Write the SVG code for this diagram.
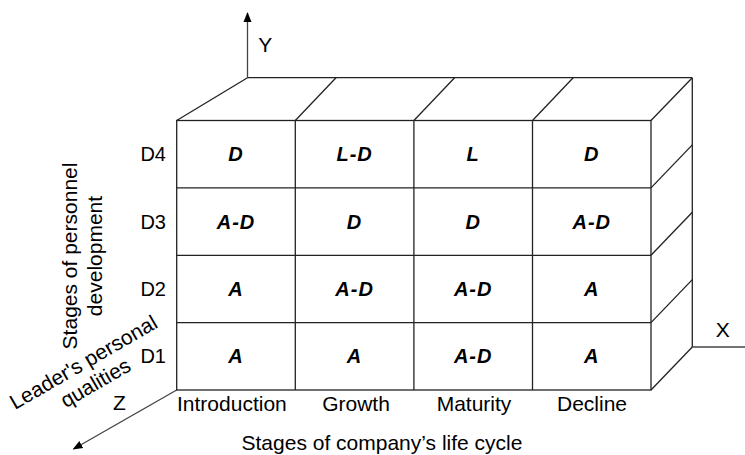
<svg xmlns="http://www.w3.org/2000/svg" width="745" height="455" viewBox="0 0 745 455">
<style>
.lbl{font-family:"Liberation Sans",Arial,sans-serif;font-size:21px;fill:#000}
.row{font-family:"Liberation Sans",Arial,sans-serif;font-size:20px;fill:#000;text-anchor:end}
.cell{font-family:"Liberation Sans",Arial,sans-serif;font-size:20px;font-weight:bold;font-style:italic;fill:#000;text-anchor:middle;letter-spacing:1px}
.box{fill:none;stroke:#222;stroke-width:1.3}
.face{fill:#fff;stroke:#222;stroke-width:1.3}
.axis{fill:none;stroke:#444;stroke-width:1.3}
</style>
<defs>
<marker id="arr" viewBox="0 0 10 10" refX="9" refY="5" markerWidth="10" markerHeight="10" markerUnits="userSpaceOnUse" orient="auto">
<path d="M0,1 L10,5 L0,9 Z" fill="#000"/>
</marker>
</defs>
<rect width="745" height="455" fill="#fff"/>

<g id="connectors">
<line class="axis" x1="247.5" y1="77.7" x2="247.5" y2="13" marker-end="url(#arr)"/>
<line class="axis" x1="176.7" y1="390" x2="73.5" y2="449" marker-end="url(#arr)"/>
<line class="axis" x1="692.3" y1="347" x2="754" y2="347" marker-end="url(#arr)"/>
</g>

<g id="box">
<g id="top-face">
<line class="box" x1="247.5" y1="77.7" x2="692.3" y2="77.7"/>
<line class="box" x1="176.7" y1="120.5" x2="247.5" y2="77.7"/>
<line class="box" x1="295.3" y1="120.5" x2="336" y2="77.7"/>
<line class="box" x1="413.9" y1="120.5" x2="454.6" y2="77.7"/>
<line class="box" x1="532.5" y1="120.5" x2="573.2" y2="77.7"/>
<line class="box" x1="651" y1="120.5" x2="692.3" y2="77.7"/>
</g>
<g id="side-face">
<line class="box" x1="692.3" y1="77.7" x2="692.3" y2="347"/>
<line class="box" x1="651" y1="187.9" x2="692.3" y2="144.9"/>
<line class="box" x1="651" y1="255.3" x2="692.3" y2="212.3"/>
<line class="box" x1="651" y1="322.6" x2="692.3" y2="279.6"/>
<line class="box" x1="651" y1="390" x2="692.3" y2="347"/>
</g>
<g id="front-face">
<rect class="box" x="176.7" y="120.5" width="474.3" height="269.5"/>
<line class="box" x1="295.3" y1="120.5" x2="295.3" y2="390"/>
<line class="box" x1="413.9" y1="120.5" x2="413.9" y2="390"/>
<line class="box" x1="532.5" y1="120.5" x2="532.5" y2="390"/>
<line class="box" x1="176.7" y1="187.9" x2="651" y2="187.9"/>
<line class="box" x1="176.7" y1="255.3" x2="651" y2="255.3"/>
<line class="box" x1="176.7" y1="322.6" x2="651" y2="322.6"/>
</g>
</g>

<g id="cells">
<g id="c-d4-intro"><text class="cell" x="236" y="161">D</text></g>
<g id="c-d4-growth"><text class="cell" x="354.6" y="161">L-D</text></g>
<g id="c-d4-maturity"><text class="cell" x="473.2" y="161">L</text></g>
<g id="c-d4-decline"><text class="cell" x="591.8" y="161">D</text></g>
<g id="c-d3-intro"><text class="cell" x="236" y="228.6">A-D</text></g>
<g id="c-d3-growth"><text class="cell" x="354.6" y="228.6">D</text></g>
<g id="c-d3-maturity"><text class="cell" x="473.2" y="228.6">D</text></g>
<g id="c-d3-decline"><text class="cell" x="591.8" y="228.6">A-D</text></g>
<g id="c-d2-intro"><text class="cell" x="236" y="296">A</text></g>
<g id="c-d2-growth"><text class="cell" x="354.6" y="296">A-D</text></g>
<g id="c-d2-maturity"><text class="cell" x="473.2" y="296">A-D</text></g>
<g id="c-d2-decline"><text class="cell" x="591.8" y="296">A</text></g>
<g id="c-d1-intro"><text class="cell" x="236" y="363.3">A</text></g>
<g id="c-d1-growth"><text class="cell" x="354.6" y="363.3">A</text></g>
<g id="c-d1-maturity"><text class="cell" x="473.2" y="363.3">A-D</text></g>
<g id="c-d1-decline"><text class="cell" x="591.8" y="363.3">A</text></g>
</g>

<g id="row-labels">
<text class="row" x="166" y="161">D4</text>
<text class="row" x="166" y="228.6">D3</text>
<text class="row" x="166" y="296">D2</text>
<text class="row" x="166" y="363.3">D1</text>
</g>

<g id="col-labels">
<text class="lbl" x="177" y="411">Introduction</text>
<text class="lbl" x="356" y="411" text-anchor="middle">Growth</text>
<text class="lbl" x="474" y="411" text-anchor="middle">Maturity</text>
<text class="lbl" x="592" y="411" text-anchor="middle">Decline</text>
</g>

<g id="axis-labels">
<text class="lbl" x="258.3" y="51.7">Y</text>
<text class="lbl" x="722.7" y="337.3" text-anchor="middle">X</text>
<text class="lbl" x="113" y="410">Z</text>
<text class="lbl" x="382" y="450" text-anchor="middle">Stages of company’s life cycle</text>
<text class="lbl" x="76.7" y="256" text-anchor="middle" transform="rotate(-90 76.7 256)">Stages of personnel</text>
<text class="lbl" x="101.7" y="256" text-anchor="middle" transform="rotate(-90 101.7 256)">development</text>
<text class="lbl" x="87" y="368.5" text-anchor="middle" transform="rotate(-30 87 368.5)">Leader's personal</text>
<text class="lbl" x="99" y="389" text-anchor="middle" transform="rotate(-30 99 389)">qualities</text>
</g>
</svg>
